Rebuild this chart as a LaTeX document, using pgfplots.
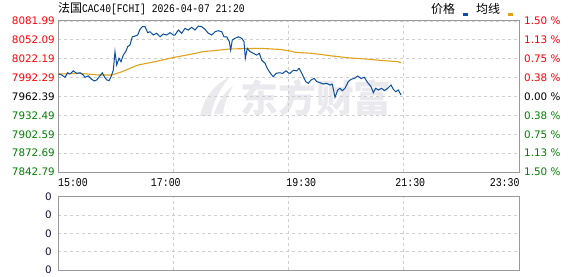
\documentclass[border=0pt]{standalone}
\usepackage{pgfplots}
\pgfplotsset{compat=1.18}
\usepackage{fontspec}
\setmainfont{DejaVu Sans}
\newfontfamily\cjk{Noto Sans CJK SC}
\newfontfamily\mono[FakeStretch=0.83]{Liberation Mono}
\definecolor{pblue}{HTML}{0B4EA2}
\definecolor{avgc}{HTML}{E0A11B}
\definecolor{upred}{HTML}{FF0000}
\definecolor{dngreen}{HTML}{008000}
\definecolor{framec}{HTML}{9A9A9A}
\definecolor{gridc}{HTML}{CFCFCF}
\definecolor{wmark}{HTML}{EAEAEE}
\definecolor{zeroc}{HTML}{101040}
\begin{document}
\begin{tikzpicture}[x=1bp,y=1bp]
\useasboundingbox (0,0) rectangle (578,276);
% watermark
\fill[wmark] (200,160) .. controls (204,178) and (214,192) .. (230,199) .. controls (222,190) and (214,178) .. (211,160) -- cycle;
\fill[wmark] (214,162) .. controls (218,174) and (224,184) .. (233,190) .. controls (228,182) and (224,172) .. (223,162) -- cycle;
\node[text=wmark, font={\cjk\bfseries\fontsize{38}{40}\selectfont}, inner sep=0pt] at (316,178) {东方财富};
% title and legend
\node[anchor=west, inner sep=0pt] at (58,267) {{\cjk\fontsize{12}{14}\selectfont 法国}{\mono\fontsize{11.7}{14}\selectfont CAC40[FCHI] 2026-04-07 21:20}};
\node[anchor=west, inner sep=0pt] at (431,267) {\cjk\fontsize{12}{14}\selectfont 价格};
\fill[pblue] (462.5,260) rectangle (467.5,263);
\node[anchor=west, inner sep=0pt] at (476,267) {\cjk\fontsize{12}{14}\selectfont 均线};
\fill[avgc] (507.5,260) rectangle (512.5,263);
% upper price axis
\begin{axis}[
  at={(58bp,255bp)}, anchor=north west,
  width=461bp, height=151bp, scale only axis,
  xmin=0, xmax=461, ymin=7842.79, ymax=8081.99,
  axis line style={framec, line width=1bp},
  major tick length=0pt,
  xtick={15,107.8,243.3,352.3,446.7},
  xticklabels={15:00,17:00,19:30,21:30,23:30},
  xticklabel style={font={\mono\fontsize{12}{14}\selectfont}, anchor=north, inner sep=0pt, yshift=-6bp},
  extra x ticks={115.25,230.5,345.75},
  extra x tick labels={},
  extra x tick style={xmajorgrids=true, major tick length=0pt},
  ytick={7842.79,7872.69,7902.59,7932.49,7962.39,7992.29,8022.19,8052.09,8081.99},
  yticklabels={{\color{dngreen}7842.79},{\color{dngreen}7872.69},{\color{dngreen}7902.59},{\color{dngreen}7932.49},{\color{black}7962.39},{\color{upred}7992.29},{\color{upred}8022.19},{\color{upred}8052.09},{\color{upred}8081.99}},
  yticklabel style={font={\fontsize{10.4}{12}\selectfont}, anchor=east, inner sep=0pt, xshift=-3bp},
  ymajorgrids=true,
  grid style={gridc, dash pattern=on 3bp off 3bp, line width=0.8bp},
  clip=true,
]
\addplot[avgc, line width=1.1bp] coordinates {
(0,7998) (22,7999) (40,7996.5) (54,7996.5) (64,8001.7) (80,8012.3) (97,8017.5) (115,8024) (132,8029) (145,8033.4) (162,8036) (172,8037.7) (202,8038.7) (222,8037) (232,8034.5) (237,8032.4) (254,8030.8) (274,8026.6) (290,8023.8) (307,8021.8) (327,8019) (340,8017.5) (343,8016)
};
\addplot[pblue, line width=1bp] coordinates {
(0.3,7998) (1,7998) (3.7,7996.5) (7,7992.8) (9.7,8000) (12,7998) (15.3,8003) (18.7,7999) (22,8000) (25.3,7996.5) (27,7992.8) (30.3,7995) (33.7,7989.6) (36.3,7987) (38.7,7988.6) (42,7995) (44.3,8000) (46.3,7993.8) (48.7,7988.6) (51,7987.5) (53,7993.8) (55.3,8004) (57,8033.4) (58.7,8012.3) (61,8023) (63,8017.5) (65.3,8028) (67.7,8033.4) (69.7,8041.3) (72,8044) (74.3,8057) (77,8058) (79.7,8059.8) (82,8068.8) (84.3,8073) (87,8073) (89.7,8063.5) (92,8065) (95.3,8059.8) (98.7,8062.5) (102,8057) (105.3,8061.4) (108.7,8059.8) (112,8063.5) (115.3,8059.8) (117,8059.8) (120.3,8067.7) (123.7,8062.5) (127,8070.4) (130.3,8067.7) (133.7,8072) (137,8067.7) (140.3,8074) (143.7,8073) (147,8068.8) (150.3,8062.5) (153.7,8059.8) (157,8065) (160.3,8066.6) (163.7,8065) (166,8057) (168.7,8057) (171.3,8049.2) (172.7,8036) (174.3,8051.9) (177,8054.6) (180.3,8057) (183.7,8054.6) (186,8049.2) (187.3,8023) (189.3,8038.7) (192,8033.4) (195.3,8030.8) (198.7,8028) (201.3,8030.8) (203.7,8020) (207,8015) (209.3,8007) (211.3,8001.7) (213.7,7996.5) (215.3,7993.8) (218,7999) (221.3,8000) (224.7,7999) (228,8003) (230.3,8000) (232,7999) (235.3,8004) (238.7,8003) (241,8007) (243,8001.7) (245.3,7994) (247.7,7986) (250.3,7983.3) (253,7988.6) (256.3,7991) (258.7,7986) (262,7984.3) (265.3,7982.2) (268.7,7983.3) (272,7980.6) (274.3,7982) (277,7961) (279.7,7972.7) (282,7975.4) (284.3,7971.6) (287,7975.4) (290.3,7986) (293,7989.6) (296.3,7991) (299.7,7994.8) (303,7991) (306.3,7992.8) (309.7,7984.3) (313,7978) (315.3,7968.5) (317.7,7975.4) (320.3,7972.7) (323.7,7975.4) (326.3,7971.6) (329.7,7975.4) (333,7980.6) (335.3,7973.8) (337.7,7970) (340.3,7972.7) (343,7964.8)
};
\end{axis}
% right percentage labels
\begin{axis}[
  at={(58bp,255bp)}, anchor=north west,
  width=461bp, height=151bp, scale only axis,
  xmin=0, xmax=461, ymin=7842.79, ymax=8081.99,
  hide x axis, axis y line*=right, y axis line style={draw=none},
  major tick length=0pt,
  ytick={7842.79,7872.69,7902.59,7932.49,7962.39,7992.29,8022.19,8052.09,8081.99},
  yticklabels={{\color{dngreen}1.50 \%},{\color{dngreen}1.13 \%},{\color{dngreen}0.75 \%},{\color{dngreen}0.38 \%},{\color{black}0.00 \%},{\color{upred}0.38 \%},{\color{upred}0.75 \%},{\color{upred}1.13 \%},{\color{upred}1.50 \%}},
  yticklabel style={font={\fontsize{10.4}{12}\selectfont}, anchor=west, inner sep=0pt, xshift=5bp},
]
\addplot[draw=none] coordinates {(0,7962.39)};
\end{axis}
% lower volume axis
\begin{axis}[
  at={(58bp,79.3bp)}, anchor=north west,
  width=461bp, height=73.3bp, scale only axis,
  xmin=0, xmax=461, ymin=0, ymax=4,
  axis line style={framec, line width=1bp},
  major tick length=0pt,
  xtick={115.25,230.5,345.75}, xticklabels={},
  xmajorgrids=true, ymajorgrids=true,
  ytick={0,1,2,3,4},
  yticklabels={0,0,0,0,0},
  yticklabel style={font={\fontsize{10.4}{12}\selectfont}, text=zeroc, anchor=east, inner sep=0pt, xshift=-6bp},
  grid style={gridc, dash pattern=on 3bp off 3bp, line width=0.8bp},
]
\addplot[draw=none] coordinates {(0,0)};
\end{axis}
\end{tikzpicture}
\end{document}
